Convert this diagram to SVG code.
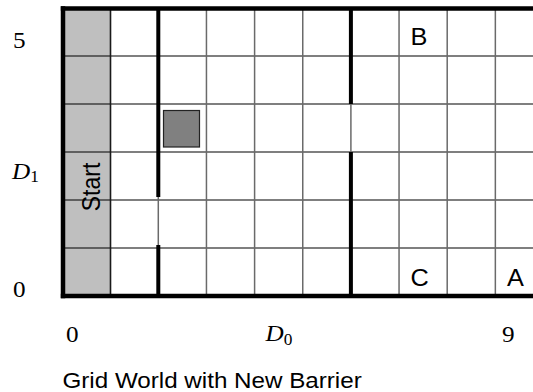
<svg xmlns="http://www.w3.org/2000/svg" width="533" height="392" viewBox="0 0 533 392">
<style>
.sans{font-family:"Liberation Sans",Arial,sans-serif;fill:#000}
.serif{font-family:"Liberation Serif","Times New Roman",serif;fill:#000}
.hl{stroke:#000;stroke-width:1.2}
.vl{stroke:#6a6a6a;stroke-width:1.5}
.bar{stroke:#000;stroke-width:4}
.border{stroke:#000;stroke-width:4.5}
</style>
<rect width="533" height="392" fill="#fff"/>
<g id="start-column">
<rect x="62" y="8" width="48.15" height="288" fill="#bfbfbf"/>
<text class="sans" font-size="23" text-anchor="middle" transform="translate(99.5,187) scale(1.1,1) rotate(-90)">Start</text>
</g>
<g id="grid">
<line class="hl" x1="62" y1="56" x2="533" y2="56"/>
<line class="hl" x1="62" y1="104" x2="533" y2="104"/>
<line class="hl" x1="62" y1="152" x2="533" y2="152"/>
<line class="hl" x1="62" y1="200" x2="533" y2="200"/>
<line class="hl" x1="62" y1="248" x2="533" y2="248"/>
<line stroke="#1a1a1a" stroke-width="1.6" x1="110.5" y1="8" x2="110.5" y2="296"/>
<line class="vl" x1="158.3" y1="8" x2="158.3" y2="296"/>
<line class="vl" x1="206.45" y1="8" x2="206.45" y2="296"/>
<line class="vl" x1="254.6" y1="8" x2="254.6" y2="296"/>
<line class="vl" x1="302.75" y1="8" x2="302.75" y2="296"/>
<line class="vl" x1="350.9" y1="8" x2="350.9" y2="296"/>
<line class="vl" x1="399.05" y1="8" x2="399.05" y2="296"/>
<line class="vl" x1="447.2" y1="8" x2="447.2" y2="296"/>
<line class="vl" x1="495.35" y1="8" x2="495.35" y2="296"/>
</g>
<g id="barriers">
<line class="bar" x1="158.3" y1="8" x2="158.3" y2="197"/>
<line class="bar" x1="158.3" y1="245" x2="158.3" y2="296"/>
<line class="bar" x1="350.9" y1="8" x2="350.9" y2="104"/>
<line class="bar" x1="350.9" y1="152" x2="350.9" y2="296"/>
</g>
<g id="border">
<line class="border" x1="60.8" y1="8.5" x2="533" y2="8.5"/>
<line class="border" x1="60.8" y1="296" x2="533" y2="296"/>
<line class="border" x1="63" y1="6.3" x2="63" y2="298.2"/>
</g>
<g id="obstacle">
<rect x="163.5" y="110.5" width="36" height="36.5" fill="#808080" stroke="#222" stroke-width="1.2"/>
</g>
<g id="goal-B"><text class="sans" font-size="23" text-anchor="middle" transform="translate(419,45) scale(1.1,1)">B</text></g>
<g id="goal-C"><text class="sans" font-size="23" text-anchor="middle" transform="translate(419.5,285.5) scale(1.1,1)">C</text></g>
<g id="goal-A"><text class="sans" font-size="23" text-anchor="middle" transform="translate(515.5,285.5) scale(1.1,1)">A</text></g>
<g id="axis-labels">
<text class="serif" font-size="24" transform="translate(13,47.5) scale(1.05,1)">5</text>
<text class="serif" font-size="24" transform="translate(12,178.5) scale(1.05,1)"><tspan font-style="italic">D</tspan><tspan font-size="16.5" dy="3">1</tspan></text>
<text class="serif" font-size="24" transform="translate(13,296.5) scale(1.05,1)">0</text>
<text class="serif" font-size="24" transform="translate(66,341.5) scale(1.05,1)">0</text>
<text class="serif" font-size="24" transform="translate(265.5,340.5) scale(1.05,1)"><tspan font-style="italic">D</tspan><tspan font-size="16.5" dy="4">0</tspan></text>
<text class="serif" font-size="24" transform="translate(502,341.5) scale(1.05,1)">9</text>
</g>
<g id="caption">
<text class="sans" font-size="22" transform="translate(62.5,387.5) scale(1.1,1)">Grid World with New Barrier</text>
</g>
</svg>
